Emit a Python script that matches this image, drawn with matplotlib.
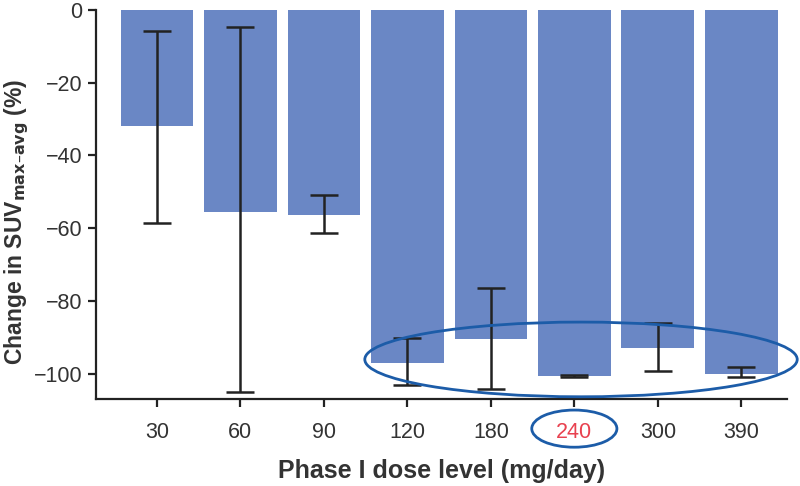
import matplotlib
matplotlib.use("Agg")
import matplotlib.pyplot as plt
from matplotlib.patches import Ellipse
import numpy as np

plt.rcParams["font.family"] = ["Liberation Sans", "DejaVu Sans"]

doses = ["30", "60", "90", "120", "180", "240", "300", "390"]
change = [-32, -55.5, -56.3, -97, -90.5, -100.5, -93, -100]
err_top = [-5.8, -4.7, -51, -90, -76.3, -100.3, -86, -98]
err_bottom = [-58.6, -105, -61.3, -103, -104, -100.7, -99.3, -100.7]
yticks = [0, -20, -40, -60, -80, -100]

BAR = "#6a87c5"
RING = "#1c5ca8"
TXT = "#333333"

fig = plt.figure(figsize=(8, 4.86), dpi=100)
ax = fig.add_axes([0.12, 0.178, 0.864, 0.802])

x = np.arange(len(doses))
ax.bar(x, change, width=0.87, color=BAR, zorder=1)
mid = [(t + b) / 2 for t, b in zip(err_top, err_bottom)]
half = [(t - b) / 2 for t, b in zip(err_top, err_bottom)]
ax.errorbar(x, mid, yerr=half, fmt="none", ecolor="#222222",
            elinewidth=1.8, capsize=10, capthick=1.8, zorder=3)

ax.set_xlim(-0.73, 7.55)
ax.set_ylim(-107, 0)
ax.set_xticks(x)
ax.set_xticklabels(doses)
ax.set_yticks(yticks)
ax.set_yticklabels([f"\u2212{abs(v)}" if v else "0" for v in yticks])
for s in ("top", "right"):
    ax.spines[s].set_visible(False)
for s in ("left", "bottom"):
    ax.spines[s].set_linewidth(1.6)
    ax.spines[s].set_color("#222222")
ax.tick_params(axis="both", length=6, width=1.6, color="#222222",
               labelsize=15.5, labelcolor=TXT)
ax.tick_params(axis="x", pad=10)
ax.tick_params(axis="y", pad=4)
ax.get_xticklabels()[5].set_color("#e8414f")

ax.set_xlabel("Phase I dose level (mg/day)", fontsize=18, fontweight="bold",
              color=TXT, labelpad=12)
ax.set_ylabel("Change in SUV$_{\\mathbf{max\u2013avg}}$ (%)", fontsize=16.5,
              fontweight="bold", color=TXT)
ax.yaxis.set_label_coords(-0.094, 0.455)

# highlight around the high-dose group
ax.add_patch(Ellipse((5.08, -96), width=5.18, height=20.5, fill=False,
                     edgecolor=RING, linewidth=2.0, clip_on=False, zorder=4))
# circle around the 240 tick label
ax.add_patch(Ellipse((5.0, -115.0), width=1.02, height=10.2, fill=False,
                     edgecolor=RING, linewidth=2.0, clip_on=False, zorder=4))

fig.savefig("out.png", dpi=100)
